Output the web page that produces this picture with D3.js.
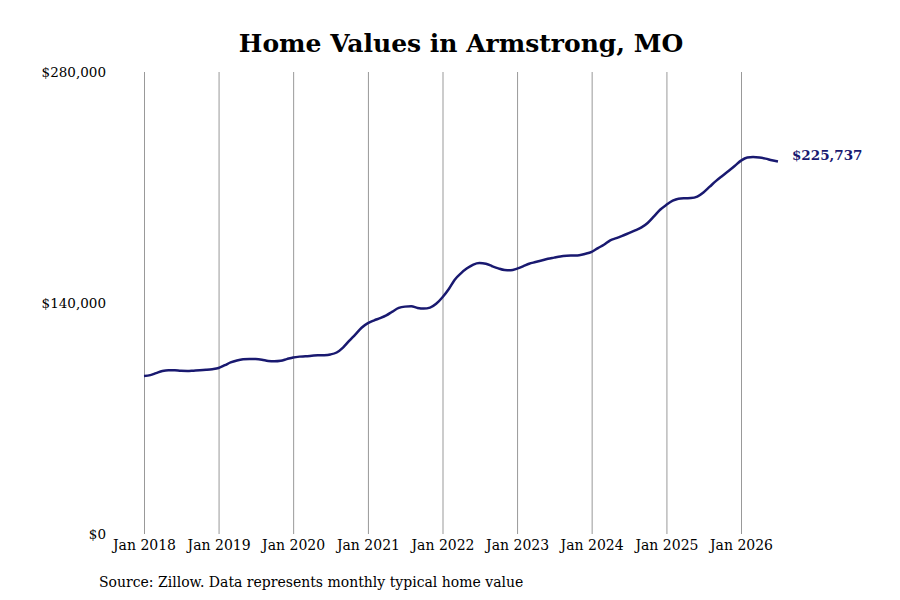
<!DOCTYPE html>
<html>
<head>
<meta charset="utf-8">
<script src="https://cdn.jsdelivr.net/npm/d3@7"></script>
<style>
  body { margin: 0; background: #fff; }
  text { font-family: "DejaVu Serif", serif; }
</style>
</head>
<body>
<script>
// monthly typical home value, Jan 2018 - Jul 2026 (thousands of dollars)
var startMonth = "2018-01";
var values2018 = [95.8, 96.3, 97.5, 98.8, 99.3, 99.2, 98.9, 98.8, 99.0, 99.2, 99.5, 99.9];
var values2019 = [100.6, 102.3, 104.0, 105.2, 105.9, 106.1, 106.0, 105.6, 104.9, 104.7, 105.0, 106.0];
var values2020 = [107.0, 107.5, 107.7, 108.0, 108.3, 108.4, 108.8, 110.0, 113.0, 117.0, 121.0, 125.0];
var values2021 = [127.8, 129.5, 130.8, 132.5, 134.8, 137.0, 137.8, 138.0, 137.0, 136.6, 137.2, 139.5];
var values2022 = [143.5, 148.5, 154.0, 158.0, 161.0, 163.3, 164.2, 163.8, 162.3, 161.0, 160.0, 159.8];
var values2023 = [160.8, 162.3, 163.8, 164.8, 165.8, 166.8, 167.5, 168.2, 168.6, 168.8, 169.0, 169.8];
var values2024 = [171.0, 173.3, 175.3, 178.0, 179.3, 180.8, 182.3, 184.0, 185.8, 188.5, 192.5, 196.5];
var values2025 = [199.5, 202.0, 203.2, 203.5, 203.6, 204.5, 207.0, 210.5, 214.0, 217.0, 220.0, 223.0];
var values2026 = [226.3, 228.2, 228.5, 228.2, 227.5, 226.5, 225.737];

var yTicks = [0, 140000, 280000];
var tickYears = [2018, 2019, 2020, 2021, 2022, 2023, 2024, 2025, 2026];

var allValues = [].concat(values2018, values2019, values2020, values2021, values2022,
  values2023, values2024, values2025, values2026);

var start = d3.timeParse("%Y-%m")(startMonth);
var data = allValues.map(function(v, i) {
  return { date: d3.timeMonth.offset(start, i), value: v * 1000 };
});

var width = 900;
var height = 600;

var svg = d3.select("body").append("svg")
  .attr("width", width)
  .attr("height", height);

// scales: Jan 2018 gridline sits at 144, Jan 2026 at 741
var xScale = d3.scaleTime()
  .domain([new Date(2018, 0, 1), new Date(2026, 0, 1)])
  .range([144, 741]);

var yScale = d3.scaleLinear()
  .domain([0, 280000])
  .range([534, 72]);

// title
svg.append("text")
  .attr("x", 461)
  .attr("y", 52)
  .attr("text-anchor", "middle")
  .style("font-size", "25px")
  .style("font-weight", "bold")
  .text("Home Values in Armstrong, MO");

// vertical gridlines + x labels via axis
var xAxis = d3.axisBottom(xScale)
  .tickValues(tickYears.map(function(y) { return new Date(y, 0, 1); }))
  .tickFormat(d3.timeFormat("Jan %Y"))
  .tickSize(-(534 - 72))
  .tickPadding(6);

var gx = svg.append("g")
  .attr("transform", "translate(0,534)")
  .call(xAxis);
gx.select(".domain").remove();
gx.selectAll("line").attr("stroke", "#999").attr("stroke-width", 1);
gx.selectAll("text")
  .style("font-family", "DejaVu Serif")
  .style("font-size", "14px")
  .attr("fill", "#000");

// y labels, no line
var yAxis = d3.axisLeft(yScale)
  .tickValues(yTicks)
  .tickFormat(function(d) { return "$" + d3.format(",")(d); })
  .tickSize(0)
  .tickPadding(0);

var gy = svg.append("g")
  .attr("transform", "translate(106,0)")
  .call(yAxis);
gy.select(".domain").remove();
gy.selectAll("text")
  .style("font-family", "DejaVu Serif")
  .style("font-size", "13.5px")
  .attr("fill", "#000");

// the line
var line = d3.line()
  .x(function(d) { return xScale(d.date); })
  .y(function(d) { return yScale(d.value); })
  .curve(d3.curveMonotoneX);

svg.append("path")
  .datum(data)
  .attr("fill", "none")
  .attr("stroke", "#191970")
  .attr("stroke-width", 2.5)
  .attr("d", line);

// last value label
var last = data[data.length - 1];
svg.append("text")
  .attr("x", xScale(last.date) + 14)
  .attr("y", yScale(last.value))
  .attr("dy", "-0.1em")
  .attr("fill", "#191970")
  .style("font-size", "13.5px")
  .style("font-weight", "bold")
  .text("$" + d3.format(",")(Math.round(last.value)));

// source note
svg.append("text")
  .attr("x", 99)
  .attr("y", 587)
  .style("font-size", "14px")
  .text("Source: Zillow. Data represents monthly typical home value");
</script>
</body>
</html>
